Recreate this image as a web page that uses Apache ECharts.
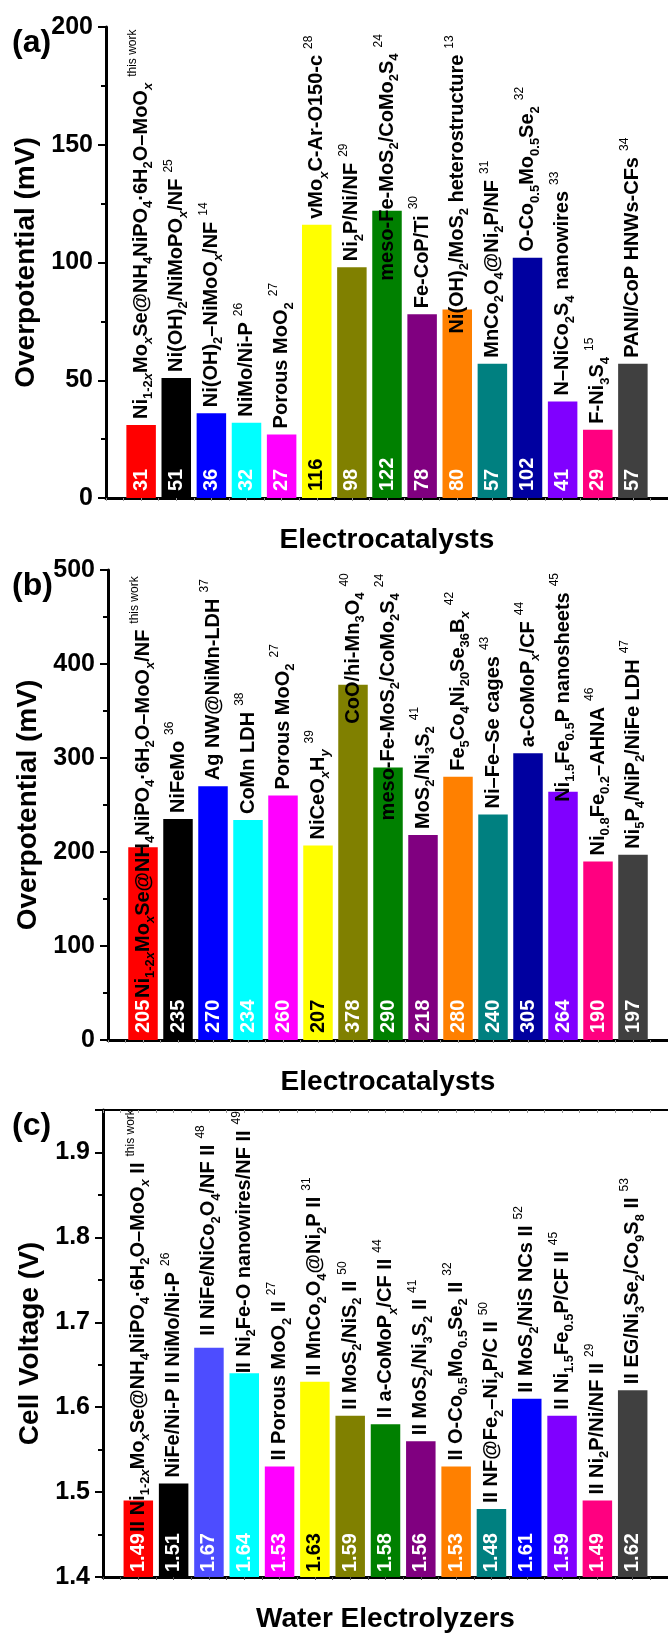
<!DOCTYPE html>
<html><head><meta charset="utf-8">
<script src="https://cdn.jsdelivr.net/npm/echarts@6/dist/echarts.min.js"></script>
<style>html,body{margin:0;padding:0;background:#fff}#c{width:668px;height:1634px}</style>
</head><body><div id="c"></div>
<script>
// ---------- DATA ----------
const catsA = [
 "Ni_{1-2x}Mo_{x}Se@NH_{4}NiPO_{4}·6H_{2}O–MoO_{x}^{this work}",
 "Ni(OH)_{2}/NiMoPO_{x}/NF^{25}",
 "Ni(OH)_{2}–NiMoO_{x}/NF^{14}",
 "NiMo/Ni-P^{26}",
 "Porous MoO_{2}^{27}",
 "vMo_{x}C-Ar-O150-c^{28}",
 "Ni_{2}P/Ni/NF^{29}",
 "meso-Fe-MoS_{2}/CoMo_{2}S_{4}^{24}",
 "Fe-CoP/Ti^{30}",
 "Ni(OH)_{2}/MoS_{2} heterostructure^{13}",
 "MnCo_{2}O_{4}@Ni_{2}P/NF^{31}",
 "O-Co_{0.5}Mo_{0.5}Se_{2}^{32}",
 "N–NiCo_{2}S_{4} nanowires^{33}",
 "F-Ni_{3}S_{4}^{15}",
 "PANI/CoP HNWs-CFs^{34}"
];
const valsA = [31, 51, 36, 32, 27, 116, 98, 122, 78, 80, 57, 102, 41, 29, 57];

const catsB = [
 "Ni_{1-2x}Mo_{x}Se@NH_{4}NiPO_{4}·6H_{2}O–MoO_{x}/NF^{this work}",
 "NiFeMo^{36}",
 "Ag NW@NiMn-LDH^{37}",
 "CoMn LDH^{38}",
 "Porous MoO_{2}^{27}",
 "NiCeO_{x}H_{y}^{39}",
 "CoO/hi-Mn_{3}O_{4}^{40}",
 "meso-Fe-MoS_{2}/CoMo_{2}S_{4}^{24}",
 "MoS_{2}/Ni_{3}S_{2}^{41}",
 "Fe_{5}Co_{4}Ni_{20}Se_{36}B_{x}^{42}",
 "Ni–Fe–Se cages^{43}",
 "a-CoMoP_{x}/CF^{44}",
 "Ni_{1.5}Fe_{0.5}P nanosheets^{45}",
 "Ni_{0.8}Fe_{0.2}–AHNA^{46}",
 "Ni_{5}P_{4}/NiP_{2}/NiFe LDH^{47}"
];
const valsB = [205, 235, 270, 234, 260, 207, 378, 290, 218, 280, 240, 305, 264, 190, 197];

const catsC = [
 "II Ni_{1-2x}Mo_{x}Se@NH_{4}NiPO_{4}·6H_{2}O–MoO_{x} II^{this work}",
 "NiFe/Ni-P II NiMo/Ni-P^{26}",
 "II NiFe/NiCo_{2}O_{4}/NF II^{48}",
 "II Ni_{2}Fe-O nanowires/NF II^{49}",
 "II Porous MoO_{2} II^{27}",
 "II MnCo_{2}O_{4}@Ni_{2}P II^{31}",
 "II MoS_{2}/NiS_{2} II^{50}",
 "II a-CoMoP_{x}/CF II^{44}",
 "II MoS_{2}/Ni_{3}S_{2} II^{41}",
 "II O-Co_{0.5}Mo_{0.5}Se_{2} II^{32}",
 "II NF@Fe_{2}–Ni_{2}P/C II^{50}",
 "II MoS_{2}/NiS NCs II^{52}",
 "II Ni_{1.5}Fe_{0.5}P/CF II^{45}",
 "II Ni_{2}P/Ni/NF II^{29}",
 "II EG/Ni_{3}Se_{2}/Co_{9}S_{8} II^{53}"
];
const valsC = [1.49, 1.51, 1.67, 1.64, 1.53, 1.63, 1.59, 1.58, 1.56, 1.53, 1.48, 1.61, 1.59, 1.49, 1.62];

const ticksA = {min: 0, max: 200, major: 50, minor: 25};
const ticksB = {min: 0, max: 500, major: 100, minor: 50};
const ticksC = {min: 1.4, max: 1.95, major: 0.1, minor: 0.05};

// ---------- STYLE ----------
const colorsAB = ['#FF0000','#000000','#0000FF','#00FFFF','#FF00FF','#FFFF00','#808000','#008000','#800080','#FF8000','#008080','#0000A0','#8000FF','#FF0080','#404040'];
const colorsC  = ['#FF0000','#000000','#4D4DFF','#00FFFF','#FF00FF','#FFFF00','#808000','#008000','#800080','#FF8000','#008080','#0000FF','#8000FF','#FF0080','#404040'];
const FF = 'Liberation Sans, Arial, Helvetica, sans-serif';

// label placement tweaks (px): negative distance = start inside the bar
const nameLabelTweaks = [
  {7: {distance: -70}, 9: {distance: -24}},
  {0: {position: 'insideBottom', distance: 42}, 6: {distance: -39}, 7: {distance: -53}, 12: {distance: -10}},
  {0: {position: 'insideBottom', distance: 45}, 2: {distance: 12}, 3: {distance: 0}}
];

function toRich(s){
  let out = '', buf = '', i = 0;
  const flush = () => { if (buf) { out += '{n|' + buf + '}'; buf = ''; } };
  while (i < s.length) {
    const ch = s[i];
    if ((ch === '_' || ch === '^') && s[i+1] === '{') {
      const j = s.indexOf('}', i);
      const t = s.slice(i+2, j);
      flush();
      if (ch === '_') {
        const parts = t.split(/([xy])/).filter(q => q.length);
        parts.forEach(q => { out += '{' + (/^[xy]$/.test(q) ? 'si' : 's') + '|' + q + '}'; });
      } else {
        out += '{p|' + t + '}';
      }
      i = j + 1;
    } else { buf += ch; i++; }
  }
  flush();
  return out;
}

const rich = {
  n:  {fontSize: 20, fontWeight: 'bold', color: '#000', fontFamily: FF, lineHeight: 28},
  s:  {fontSize: 13, fontWeight: 'bold', color: '#000', fontFamily: FF, lineHeight: 13, verticalAlign: 'bottom'},
  si: {fontSize: 13, fontWeight: 'bold', fontStyle: 'italic', color: '#000', fontFamily: FF, lineHeight: 13, verticalAlign: 'bottom'},
  p:  {fontSize: 12, fontWeight: 'normal', color: '#000', fontFamily: FF, lineHeight: 20, verticalAlign: 'top', padding: [0, 0, 0, 6]}
};

const panels = [
  {cats: catsA, vals: valsA, colors: colorsAB, ticks: ticksA, left: 106, top: 27, height: 471, unit: 35.46,
   yName: 'Overpotential (mV)', xName: 'Electrocatalysts', yGap: 54, dec: 0, vDist: 7, tag: '(a)'},
  {cats: catsB, vals: valsB, colors: colorsAB, ticks: ticksB, left: 108, top: 570, height: 470, unit: 35.46,
   yName: 'Overpotential (mV)', xName: 'Electrocatalysts', yGap: 58, dec: 0, vDist: 7, tag: '(b)'},
  {cats: catsC, vals: valsC, colors: colorsC, ticks: ticksC, left: 103, top: 1110, height: 469, unit: 35.64,
   yName: 'Cell Voltage (V)', xName: 'Water Electrolyzers', yGap: 50, dec: 1, vDist: 5, tag: '(c)'}
];

const grid = [], xAxis = [], yAxis = [], series = [], graphic = [];
panels.forEach((P, k) => {
  grid.push({left: P.left, top: P.top, width: P.unit * 16, height: P.height, containLabel: false});
  const axText = {fontFamily: FF, fontWeight: 'bold', color: '#000'};
  xAxis.push({type: 'value', gridIndex: k, min: 0, max: 16, interval: 0.5, position: 'bottom',
    axisLine: {lineStyle: {color: '#000', width: 3}},
    axisTick: {show: true, inside: false, length: 3, lineStyle: {color: '#555', width: 1}},
    axisLabel: {show: false}, splitLine: {show: false},
    name: P.xName, nameLocation: 'middle', nameGap: 28,
    nameTextStyle: Object.assign({fontSize: 28}, axText)});
  xAxis.push({type: 'value', gridIndex: k, min: 0, max: 16, interval: 0.5, position: 'top',
    axisLine: {lineStyle: {color: '#000', width: 2}},
    axisTick: {show: true, inside: true, length: 3, lineStyle: {color: '#999', width: 1}},
    axisLabel: {show: false}, splitLine: {show: false}});
  const T = P.ticks;
  const offGrid = (T.max - T.min) / T.major % 1 > 1e-6;
  yAxis.push({type: 'value', gridIndex: k, min: T.min, max: T.max, interval: T.major, position: 'left',
    axisLine: {show: true, lineStyle: {color: '#000', width: 3}},
    axisTick: {show: true, inside: false, length: 8, lineStyle: {color: '#000', width: 2}},
    splitLine: {show: false},
    axisLabel: Object.assign({fontSize: 25, margin: 13,
      formatter: v => (offGrid && Math.abs(v - T.max) < 1e-9) ? '' : (P.dec ? v.toFixed(P.dec) : String(Math.round(v)))}, axText),
    name: P.yName, nameLocation: 'middle', nameGap: P.yGap,
    nameTextStyle: Object.assign({fontSize: 28}, axText)});
  yAxis.push({type: 'value', gridIndex: k, min: T.min, max: T.max, interval: T.minor, position: 'left',
    axisLine: {show: false},
    axisTick: {show: true, inside: false, length: 5, lineStyle: {color: '#000', width: 2}},
    axisLabel: {show: false}, splitLine: {show: false}});

  const barData = P.vals.map((v, i) => ({
    value: [i + 1, v],
    itemStyle: {color: P.colors[i]},
    label: {color: P.colors[i] === '#FFFF00' ? '#000' : '#fff'}
  }));
  series.push({type: 'bar', xAxisIndex: 2 * k, yAxisIndex: 2 * k, barWidth: 29.5, barGap: '-100%',
    data: barData, animation: false, silent: true, z: 2,
    label: {show: true, position: 'insideBottom', rotate: 90, align: 'left', verticalAlign: 'middle',
      distance: P.vDist, fontSize: 20, fontWeight: 'bold', fontFamily: FF,
      formatter: p => P.dec ? p.value[1].toFixed(2) : String(p.value[1])}});
  const tw = nameLabelTweaks[k];
  const nameData = P.vals.map((v, i) => {
    const o = {value: [i + 1, v]};
    if (tw[i]) o.label = Object.assign({}, tw[i]);
    return o;
  });
  const richTexts = P.cats.map(toRich);
  series.push({type: 'bar', xAxisIndex: 2 * k, yAxisIndex: 2 * k, barWidth: 29.5, barGap: '-100%',
    data: nameData, animation: false, silent: true, z: 3,
    itemStyle: {color: 'rgba(0,0,0,0)'},
    label: {show: true, position: 'top', rotate: 90, align: 'left', verticalAlign: 'middle', distance: 6,
      formatter: p => richTexts[p.dataIndex], rich: rich}});
  graphic.push({type: 'text', left: 12, top: P.top, z: 10,
    style: {text: P.tag, font: 'bold 32px ' + FF, fill: '#000'}});
});

const chart = echarts.init(document.getElementById('c'), null, {renderer: 'canvas'});
chart.setOption({animation: false, backgroundColor: '#fff', grid, xAxis, yAxis, series, graphic});
</script>
</body></html>
